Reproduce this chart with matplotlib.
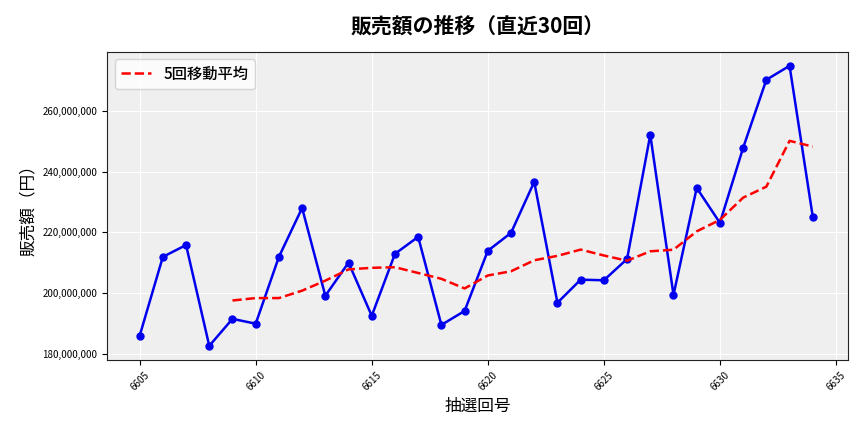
import matplotlib as mpl
mpl.use('Agg')
import matplotlib.pyplot as plt
import matplotlib.ticker as mticker
import numpy as np
import pandas as pd

plt.rcParams['font.family'] = ['Noto Sans CJK JP', 'DejaVu Sans']

# 抽選回号と販売額（円）
draws = list(range(6605, 6635))
sales = [185.9, 211.9, 215.8, 182.6, 191.5, 189.9, 211.9, 228.0, 199.1, 210.0,
         192.5, 212.9, 218.5, 189.5, 194.1, 213.9, 219.8, 236.6, 196.8, 204.4,
         204.2, 211.2, 252.1, 199.4, 234.6, 223.1, 247.8, 270.2, 274.8, 225.1]
sales = [v * 1e6 for v in sales]

df = pd.DataFrame({'draw': draws, 'sales': sales})
df['ma5'] = df['sales'].rolling(5).mean()

fig = plt.figure(figsize=(8.64, 4.32), dpi=100)
ax = fig.add_axes([0.124, 0.167, 0.857, 0.713])
ax.set_facecolor('#efefef')
ax.grid(True, color='white', linewidth=0.8)
ax.set_axisbelow(True)

ax.plot(df['draw'], df['sales'], color='#0000ee', marker='o',
        markersize=5, linewidth=1.8)
ax.plot(df['draw'], df['ma5'], color='red', linestyle='--',
        linewidth=1.8, label='5回移動平均')

ax.set_xlim(6603.6, 6635.5)
ax.set_ylim(178e6, 279.4e6)
ax.yaxis.set_major_formatter(mticker.FuncFormatter(lambda v, p: f'{int(v):,}'))
ax.tick_params(axis='x', labelsize=7, labelrotation=45)
ax.tick_params(axis='y', labelsize=7)

ax.set_title('販売額の推移（直近30回）', fontsize=15, fontweight='bold', pad=14)
ax.set_xlabel('抽選回号', fontsize=12)
ax.set_ylabel('販売額（円）', fontsize=12)
ax.legend(loc='upper left', fontsize=11, prop={'size': 11, 'weight': 'medium'},
          handlelength=2.0)

for s in ax.spines.values():
    s.set_color('#222222')

plt.savefig('out.png', dpi=100)
